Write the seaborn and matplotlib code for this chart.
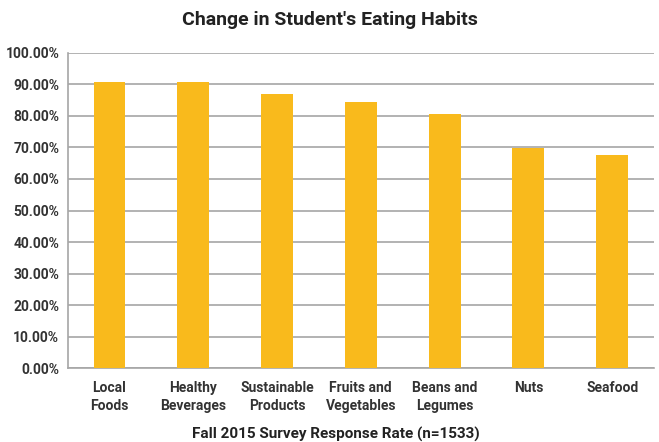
import matplotlib
matplotlib.use("Agg")
import matplotlib.pyplot as plt
import seaborn as sns
import pandas as pd
from matplotlib.ticker import PercentFormatter, MultipleLocator

categories = ["Local\nFoods", "Healthy\nBeverages", "Sustainable\nProducts",
              "Fruits and\nVegetables", "Beans and\nLegumes", "Nuts", "Seafood"]
values = [90.7, 90.7, 86.9, 84.4, 80.7, 69.9, 67.6]

title = "Change in Student's Eating Habits"
xlabel = "Fall 2015 Survey Response Rate (n=1533)"

sns.set_theme(style="white")
plt.rcParams['font.family'] = ['Roboto', 'DejaVu Sans']

df = pd.DataFrame({"cat": categories, "val": values})

fig = plt.figure(figsize=(6.59, 4.42), dpi=100)
ax = fig.add_axes([0.1025, 0.1667, 0.890, 0.714])

sns.barplot(data=df, x="cat", y="val", color="#F9BA1C", width=0.38,
            saturation=1, linewidth=0, edgecolor="none", ax=ax, zorder=3)

ax.set_ylim(0, 100)
ax.yaxis.set_major_locator(MultipleLocator(10))
ax.yaxis.set_major_formatter(PercentFormatter(decimals=2))
ax.grid(axis="y", color="#A6A6A6", linewidth=1.2, zorder=0)
ax.set_axisbelow(True)

for s in ["top", "right"]:
    ax.spines[s].set_visible(False)
for s in ["left", "bottom"]:
    ax.spines[s].set_color("#A6A6A6")
    ax.spines[s].set_linewidth(1.2)

ax.tick_params(axis="y", length=0, labelsize=10, labelcolor="#333333", pad=6)
ax.tick_params(axis="x", length=0, labelsize=10, labelcolor="#333333", pad=9)
for lab in ax.get_yticklabels() + ax.get_xticklabels():
    lab.set_fontweight("bold")
for lab in ax.get_xticklabels():
    lab.set_linespacing(1.35)

ax.set_xlabel("")
ax.set_ylabel("")
fig.text(0.51, 0.007, xlabel, ha="center", va="baseline", fontsize=11,
         fontweight="bold", color="#222222")
fig.suptitle(title, fontsize=14, fontweight="bold", color="#222222", y=0.975)

fig.savefig("out.png", dpi=100)
